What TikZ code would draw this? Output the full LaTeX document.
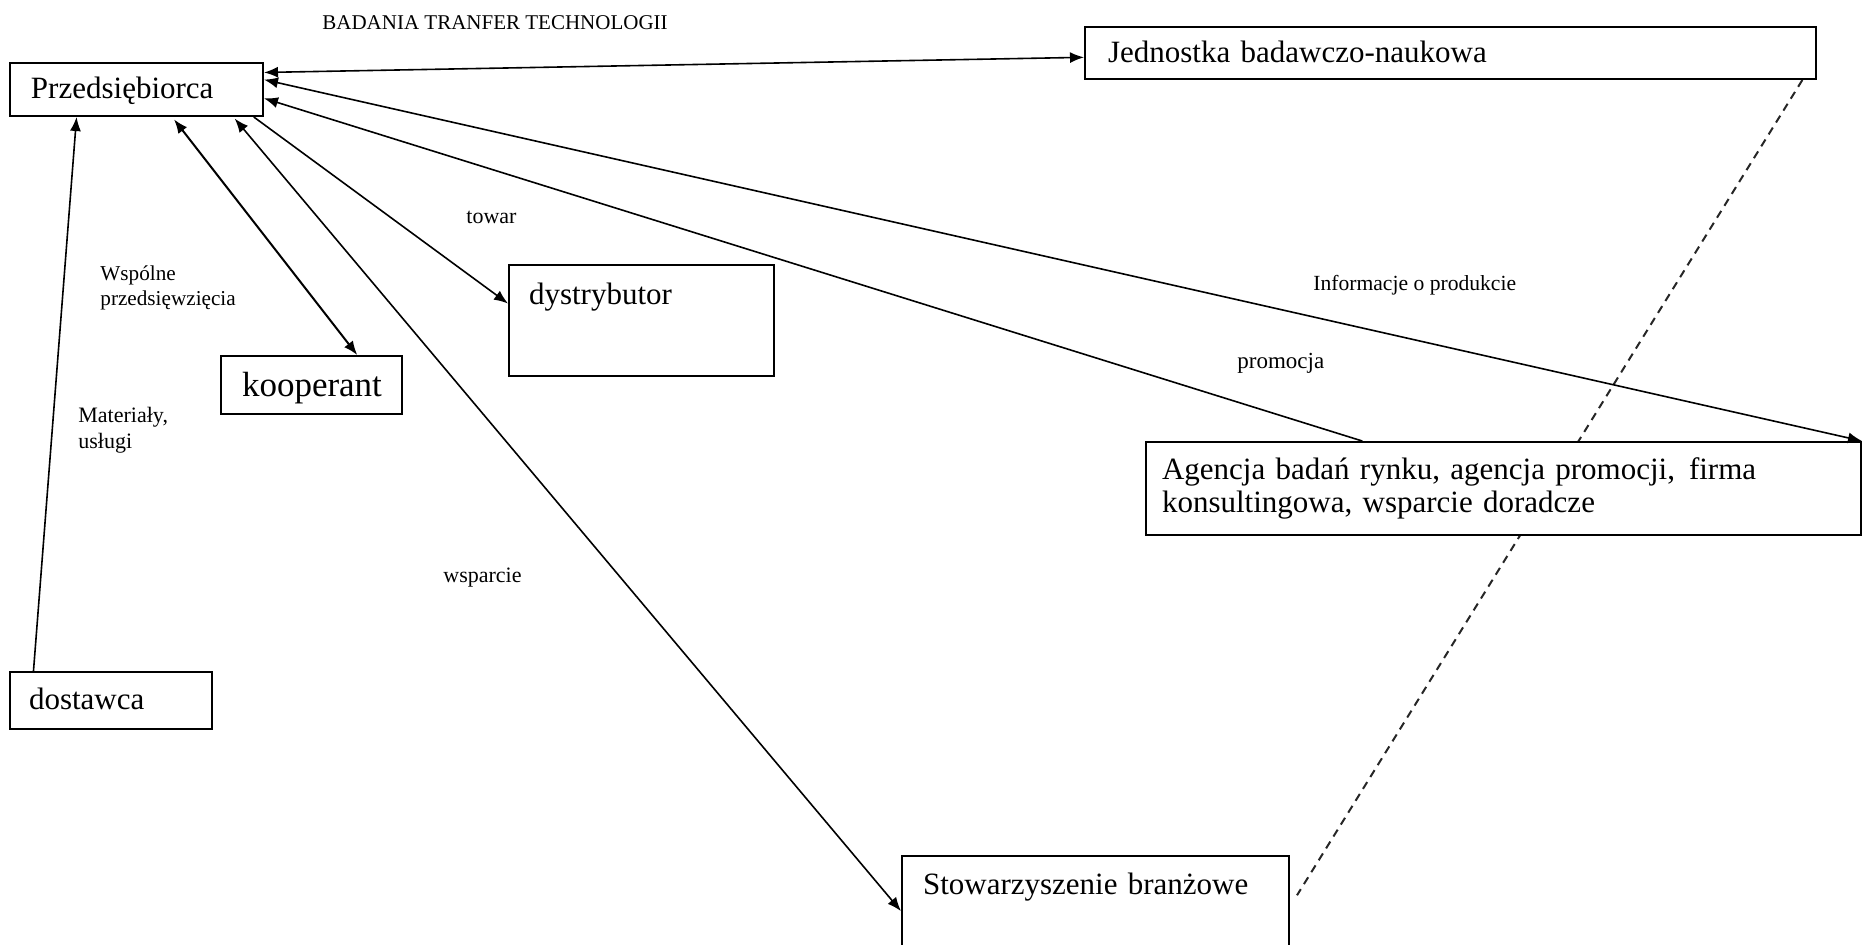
\documentclass[tikz,border=0pt]{standalone}
\usepackage{fontspec}
\setmainfont{Liberation Serif}
\usepackage{tikz}
\usetikzlibrary{arrows.meta,calc,backgrounds}
\tikzset{>={Latex[length=7pt,width=5.5pt]},
  box/.style={draw, line width=1pt, fill=white, anchor=north west, align=left,
    inner ysep=0pt, font=\fontsize{15.5}{16.5}\selectfont},
  link/.style={line width=0.8pt},
  dashlink/.style={line width=1pt, dash pattern=on 4pt off 3pt, black!85},
  smalltext/.style={anchor=west, align=left, inner sep=0pt, font=\fontsize{11}{13}\selectfont}}

\begin{document}
\begin{tikzpicture}[x=0.5pt,y=-0.5pt]
    \useasboundingbox (0,0) rectangle (1862,944);
    \clip (0,0) rectangle (1862,944);
    \node[box, inner xsep=10.5pt, text width=105.5pt, text height=17.75pt, text depth=8.75pt] (przed) at (9,62) {Przedsiębiorca};
    \node[box, inner xsep=11.5pt, text width=342.5pt, text height=17.5pt, text depth=8.5pt] (jedn) at (1084,26) {Jednostka badawczo-naukowa};
    \node[box, inner xsep=10pt, text width=112.5pt, text height=19.5pt, text depth=36pt] (dystr) at (508,264) {dystrybutor};
    \node[box, inner xsep=10.5pt, text width=69.5pt, text height=20pt, text depth=9pt, font=\fontsize{17.5}{20}\selectfont] (koop) at (220,355) {kooperant};
    \node[box, inner xsep=8pt, text width=341.5pt, minimum height=46.5pt] (agencja) at (1145,441) {Agencja badań rynku, agencja promocji,\hspace{0.45em}firma\\konsultingowa, wsparcie doradcze};
    \node[box, inner xsep=9.5pt, text width=82pt, text height=18.5pt, text depth=10pt] (dost) at (9,671) {dostawca};
    \node[box, inner xsep=10.5pt, text width=172.5pt, text height=19pt, text depth=41pt] (stow) at (901,855) {Stowarzyszenie branżowe};

    \node[smalltext, font=\fontsize{10.5}{12}\selectfont] (badania) at (322,23) {BADANIA TRANFER TECHNOLOGII};
    \node[smalltext] (towar) at (466,217) {towar};
    \node[smalltext, font=\fontsize{10.6}{12.5}\selectfont] (wspolne) at (100,288) {Wspólne\\przedsięwzięcia};
    \node[smalltext] (materialy) at (78,430) {Materiały,\\usługi};
    \node[smalltext] (wsparcie) at (443,578) {wsparcie};
    \node[smalltext, font=\fontsize{10.8}{13}\selectfont] (info) at (1313,285) {Informacje o produkcie};
    \node[smalltext, font=\fontsize{11.5}{13}\selectfont] (promocja) at (1237,363) {promocja};

    \draw[link,<->] ($(przed.north east)!.19!(przed.south east)$) -- ($(jedn.north west)!.58!(jedn.south west)$);
    \draw[link,<->] ($(przed.north east)!.32!(przed.south east)$) -- (agencja.north east);
    \draw[link,->] ($(agencja.north west)!.303!(agencja.north east)$) -- ($(przed.north east)!.66!(przed.south east)$);
    \draw[link,->] ($(przed.south west)!.96!(przed.south east)$) -- ($(dystr.north west)!.35!(dystr.south west)$);
    \draw[link,<->,line width=1pt,shorten <=1.5pt] ($(przed.south west)!.64!(przed.south east)$) -- ($(koop.north west)!.75!(koop.north east)$);
    \draw[link,<->,shorten <=1pt] ($(przed.south west)!.88!(przed.south east)$) -- ($(stow.north west)!.46!(stow.south west)$);
    \draw[link,->] ($(dost.north west)!.12!(dost.north east)$) -- ($(przed.south west)!.265!(przed.south east)$);
    \begin{pgfonlayer}{background}
      \draw[dashlink] ($(jedn.south west)!.98!(jedn.south east)$) -- ($(stow.north east)!.33!(stow.south east)+(7,0)$);
    \end{pgfonlayer}
  \end{tikzpicture}
\end{document}
